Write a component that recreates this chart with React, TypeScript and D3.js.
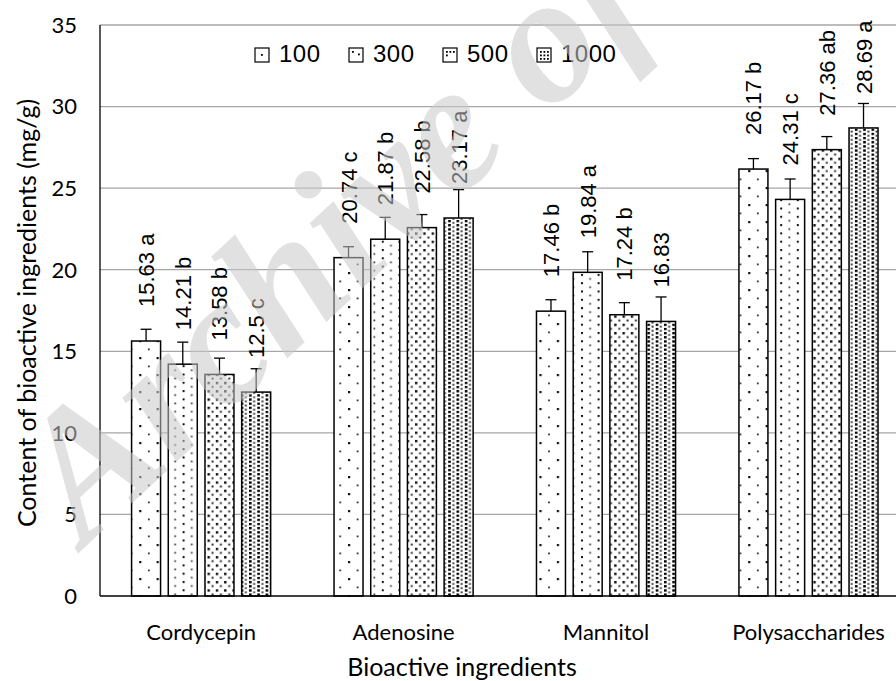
import React from "react";
import * as d3 from "d3";

const categories = ["Cordycepin", "Adenosine", "Mannitol", "Polysaccharides"];
const seriesNames = ["100", "300", "500", "1000"];
const values100 = [15.63, 20.74, 17.46, 26.17];
const values300 = [14.21, 21.87, 19.84, 24.31];
const values500 = [13.58, 22.58, 17.24, 27.36];
const values1000 = [12.5, 23.17, 16.83, 28.69];
const errors100 = [0.72, 0.67, 0.7, 0.64];
const errors300 = [1.35, 1.34, 1.26, 1.25];
const errors500 = [1.0, 0.8, 0.74, 0.8];
const errors1000 = [1.43, 1.74, 1.5, 1.5];
const letters100 = ["a", "c", "b", "b"];
const letters300 = ["b", "b", "a", "c"];
const letters500 = ["b", "b", "b", "ab"];
const letters1000 = ["c", "a", "", "a"];
const yTicks = [0, 5, 10, 15, 20, 25, 30, 35];
const yTitle = "Content of bioactive ingredients (mg/g)";
const xTitle = "Bioactive ingredients";
const watermark = "Archive of SID";

const allValues = [values100, values300, values500, values1000];
const allErrors = [errors100, errors300, errors500, errors1000];
const allLetters = [letters100, letters300, letters500, letters1000];

const W = 896;
const H = 681;
const left = 100;
const top = 25;
const bottom = 596;
const plotRight = 909.6;

const LABEL_FONT = "'Liberation Sans', Arial, sans-serif";
const AXIS_FONT = "Lato, 'Open Sans', sans-serif";

function Patterns() {
  return (
    <defs>
      <pattern id="p100" width={17.4} height={17} patternUnits="userSpaceOnUse">
        <rect width={17.4} height={17} fill="#fff" />
        <rect x={0} y={0} width={2.2} height={2.2} fill="#111" />
        <rect x={8.7} y={8.5} width={1.8} height={1.8} fill="#333" />
      </pattern>
      <pattern id="p300" width={16.6} height={8.3} patternUnits="userSpaceOnUse">
        <rect width={16.6} height={8.3} fill="#fff" />
        <rect x={0} y={0} width={2} height={2} fill="#111" />
        <rect x={8.3} y={4.15} width={1.7} height={1.7} fill="#333" />
      </pattern>
      <pattern id="p500" width={8.3} height={8.3} patternUnits="userSpaceOnUse">
        <rect width={8.3} height={8.3} fill="#fff" />
        <rect x={0} y={0} width={2.4} height={2.4} fill="#111" />
        <rect x={4.15} y={4.15} width={1.9} height={1.9} fill="#222" />
      </pattern>
      <pattern id="p1000" width={8.3} height={4.15} patternUnits="userSpaceOnUse">
        <rect width={8.3} height={4.15} fill="#fff" />
        <rect x={0} y={0} width={2.6} height={2.3} fill="#000" />
        <rect x={4.15} y={2.07} width={2} height={1.8} fill="#333" />
      </pattern>
    </defs>
  );
}

export default function App() {
  const y = d3.scaleLinear().domain([0, 35]).range([bottom, top]);
  const x0 = d3
    .scaleBand<string>()
    .domain(categories)
    .range([left, plotRight])
    .paddingInner(0.313)
    .paddingOuter(0.156);
  const x1 = d3
    .scaleBand<string>()
    .domain(seriesNames)
    .range([0, x0.bandwidth()])
    .paddingInner(0.21);
  const legendX = d3.scaleLinear().domain([0, 1]).range([255, 349]);
  const patternIds = ["p100", "p300", "p500", "p1000"];
  const legendDots = [1, 2, 4, 9];

  return (
    <svg
      width={W}
      height={H}
      viewBox={`0 0 ${W} ${H}`}
      style={{ position: "absolute", left: 0, top: 0, background: "#fff" }}
    >
      <Patterns />
      <rect width={W} height={H} fill="#fff" />
      {yTicks.filter((t) => t > 0).map((t) => (
        <line key={t} x1={left} x2={W} y1={y(t)} y2={y(t)} stroke="#a6a6a6" strokeWidth={1.3} />
      ))}
      {yTicks.map((t) => (
        <text
          key={t}
          x={77}
          y={y(t)}
          dy="0.36em"
          textAnchor="end"
          fontFamily={AXIS_FONT}
          fontSize={22}
          fill="#000"
        >
          {t}
        </text>
      ))}
      {seriesNames.map((s, si) =>
        categories.map((c, ci) => {
          const v = allValues[si][ci];
          const bx = (x0(c) as number) + (x1(s) as number);
          const bw = x1.bandwidth();
          return (
            <rect
              key={s + c}
              x={bx}
              y={y(v)}
              width={bw}
              height={y(0) - y(v)}
              fill={`url(#${patternIds[si]})`}
              stroke="#000"
              strokeWidth={1.5}
            />
          );
        })
      )}
      {seriesNames.map((s, si) =>
        categories.map((c, ci) => {
          const v = allValues[si][ci];
          const e = allErrors[si][ci];
          const cx = (x0(c) as number) + (x1(s) as number) + x1.bandwidth() / 2;
          return (
            <g key={"e" + s + c} stroke="#000" strokeWidth={1.3}>
              <line x1={cx} x2={cx} y1={y(v)} y2={y(v + e)} />
              <line x1={cx - 5.5} x2={cx + 5.5} y1={y(v + e)} y2={y(v + e)} />
            </g>
          );
        })
      )}
      {seriesNames.map((s, si) =>
        categories.map((c, ci) => {
          const v = allValues[si][ci];
          const l = allLetters[si][ci];
          const cx = (x0(c) as number) + (x1(s) as number) + x1.bandwidth() / 2;
          const ly = y(v) - 34;
          return (
            <text
              key={"l" + s + c}
              transform={`translate(${cx + 8},${ly}) rotate(-90)`}
              fontFamily={LABEL_FONT}
              fontSize={22}
              fill="#000"
            >
              {l ? `${v} ${l}` : `${v}`}
            </text>
          );
        })
      )}
      <line x1={left} x2={left} y1={top} y2={bottom} stroke="#000" strokeWidth={1.3} />
      <line x1={left} x2={W} y1={bottom} y2={bottom} stroke="#000" strokeWidth={1.5} />
      {categories.map((c) => (
        <text
          key={c}
          x={(x0(c) as number) + x0.bandwidth() / 2}
          y={632}
          dy="0.35em"
          textAnchor="middle"
          fontFamily={AXIS_FONT}
          fontSize={22}
          fill="#000"
        >
          {c}
        </text>
      ))}
      <text
        x={462}
        y={667}
        dy="0.35em"
        textAnchor="middle"
        fontFamily={AXIS_FONT}
        fontSize={25}
        fill="#000"
      >
        {xTitle}
      </text>
      <text
        transform={`translate(27,313) rotate(-90)`}
        dy="0.35em"
        textAnchor="middle"
        fontFamily={AXIS_FONT}
        fontSize={25}
        fill="#000"
      >
        {yTitle}
      </text>
      {seriesNames.map((s, i) => {
        const lx = legendX(i);
        const n = legendDots[i];
        const dots = d3.range(n).map((k) => ({
          dx: n === 1 ? 6 : 3 + (k % 3) * 3.5 + (n === 2 ? k * 2.5 : 0),
          dy: n === 1 ? 6 : 3 + Math.floor(k / 3) * 3.5 + (n === 2 ? k * 2.5 : 0),
        }));
        return (
          <g key={"lg" + s}>
            <rect
              x={lx}
              y={48}
              width={14}
              height={14}
              fill="#fff"
              stroke="#000"
              strokeWidth={1.2}
            />
            {dots.map((d, k) => (
              <rect key={k} x={lx + d.dx} y={48 + d.dy} width={1.8} height={1.8} fill="#000" />
            ))}
            <text
              x={lx + 24}
              y={62}
              fontFamily={LABEL_FONT}
              fontSize={24}
              letterSpacing={0.5}
              fill="#000"
            >
              {s}
            </text>
          </g>
        );
      })}
      <text
        transform="translate(85,547) rotate(-43)"
        fontFamily="'Liberation Serif', 'DejaVu Serif', serif"
        fontStyle="italic"
        fontWeight="bold"
        fontSize={182}
        fill="#c8c8c8"
        fillOpacity={0.55}
      >
        {watermark}
      </text>
    </svg>
  );
}
